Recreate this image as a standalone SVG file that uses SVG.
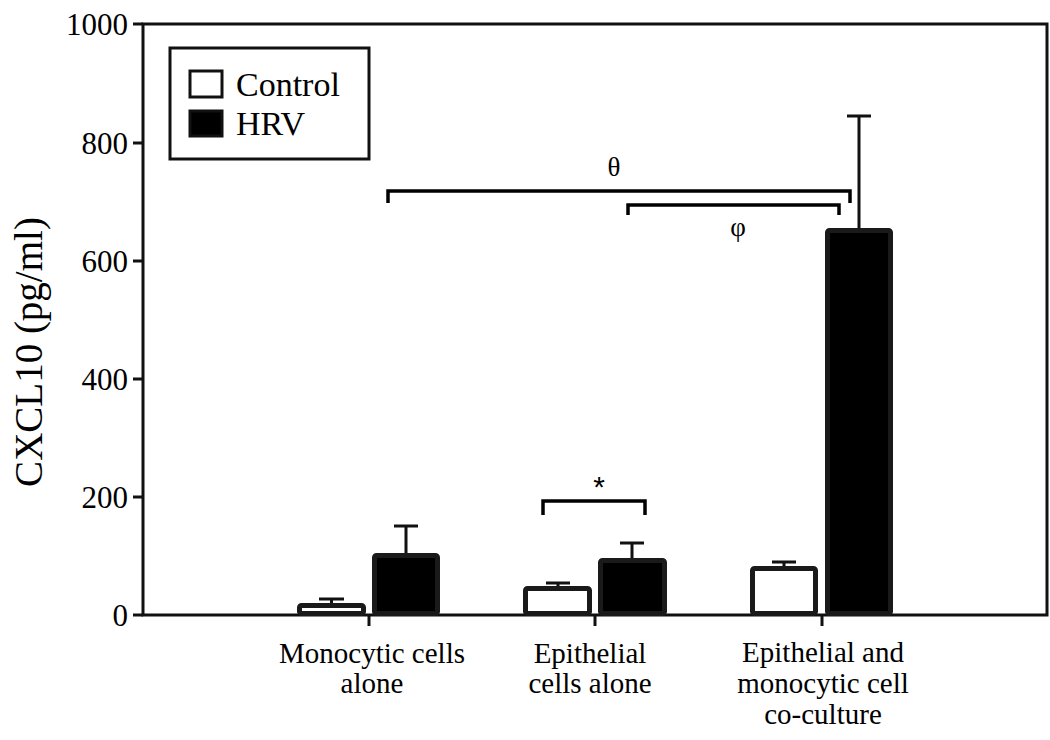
<svg xmlns="http://www.w3.org/2000/svg" width="1050" height="740" viewBox="0 0 1050 740">
<style>
.t{font-family:'Liberation Serif','DejaVu Serif',serif;fill:#000}
.tick{font-size:31px;text-anchor:end}
.xl{font-size:29px;text-anchor:middle}
.ax{stroke:#111;stroke-width:3;fill:none}
.ctl{fill:#fff;stroke:#1a1a1a;stroke-width:5}
.hrv{fill:#000;stroke:#1a1a1a;stroke-width:5}
.err{stroke:#111;stroke-width:3;fill:none}
.br{stroke:#000;stroke-width:3.5;fill:none}
.sym{font-size:27px;text-anchor:middle}
.star{font-family:'Liberation Sans',Arial,sans-serif;font-size:30px;text-anchor:middle;fill:#000}
</style>
<rect width="1050" height="740" fill="#fff"/>
<g id="axes">
<path class="ax" d="M143,24 H1047 V615 H143 Z"/>
<path class="ax" d="M133,24 H143 M133,143 H143 M133,261 H143 M133,379 H143 M133,497 H143 M133,615 H143 M369,615 V626 M595,615 V626 M822,615 V626"/>
<text class="t tick" x="128" y="35">1000</text>
<text class="t tick" x="128" y="154">800</text>
<text class="t tick" x="128" y="272">600</text>
<text class="t tick" x="128" y="390">400</text>
<text class="t tick" x="128" y="508">200</text>
<text class="t tick" x="128" y="626">0</text>
<text class="t" transform="translate(42,352) rotate(-90)" font-size="39" text-anchor="middle">CXCL10 (pg/ml)</text>
</g>
<g id="legend">
<rect x="170" y="48" width="199" height="111" fill="#fff" stroke="#111" stroke-width="3"/>
<rect x="190" y="71" width="32" height="26" fill="#fff" stroke="#111" stroke-width="3"/>
<rect x="190" y="111" width="32" height="25" fill="#000" stroke="#111" stroke-width="3"/>
<text class="t" x="236" y="96" font-size="34">Control</text>
<text class="t" x="236" y="135" font-size="34">HRV</text>
</g>
<g id="monocytic">
<rect class="ctl" x="299.5" y="605.5" width="64" height="8" rx="2"/>
<path class="err" d="M331.5,599 V603 M319,599 H344"/>
<rect class="hrv" x="374.5" y="555.5" width="63" height="58" rx="2"/>
<path class="err" d="M406,526 V553 M394,526 H418"/>
<text class="t xl" x="372" y="663">Monocytic cells</text>
<text class="t xl" x="372" y="693">alone</text>
</g>
<g id="epithelial">
<rect class="ctl" x="525.5" y="588.5" width="64" height="25" rx="2"/>
<path class="err" d="M558,583 V586 M546,583 H570"/>
<rect class="hrv" x="600.5" y="560.5" width="64" height="53" rx="2"/>
<path class="err" d="M632,543 V558 M620,543 H644"/>
<text class="t xl" x="590" y="663">Epithelial</text>
<text class="t xl" x="590" y="693">cells alone</text>
</g>
<g id="coculture">
<rect class="ctl" x="752.5" y="568.5" width="63" height="45" rx="2"/>
<path class="err" d="M784,562 V566 M772,562 H796"/>
<rect class="hrv" x="827.5" y="230.5" width="63" height="383" rx="2"/>
<path class="err" d="M859,116 V228 M847,116 H871"/>
<text class="t xl" x="823" y="662">Epithelial and</text>
<text class="t xl" x="823" y="693">monocytic cell</text>
<text class="t xl" x="823" y="724">co-culture</text>
</g>
<g id="connectors">
<path class="br" d="M388,203 V191 H850 V203"/>
<path class="br" d="M628,215 V205 H839 V215"/>
<path class="br" d="M543,515 V501 H645 V515"/>
</g>
<g id="labels">
<text class="t sym" x="614" y="176">θ</text>
<text class="t sym" x="738" y="236">φ</text>
<text class="star" x="599" y="497">*</text>
</g>
</svg>
